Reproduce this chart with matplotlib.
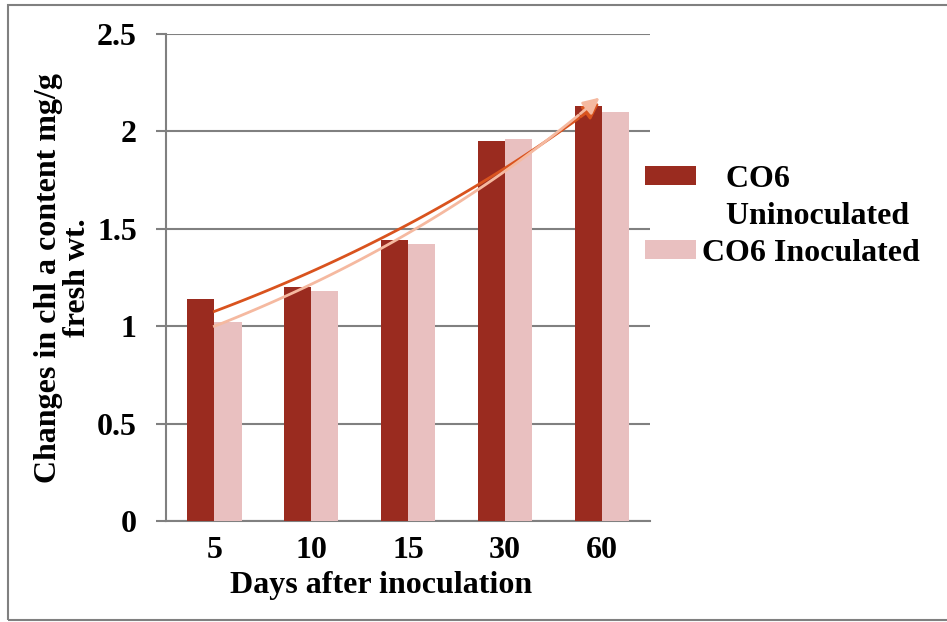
import matplotlib.pyplot as plt
import numpy as np
from matplotlib.patches import Patch, Rectangle

# Data
days = ['5', '10', '15', '30', '60']
uninoculated = [1.14, 1.20, 1.44, 1.95, 2.13]
inoculated = [1.02, 1.18, 1.42, 1.96, 2.10]

dark_red = '#9A2B1F'
pink = '#E9C0C0'
trend_dark = '#D9531E'
trend_light = '#F5B9A0'
grey = '#808080'

plt.rcParams['font.family'] = ['Liberation Serif', 'DejaVu Serif']
plt.rcParams['font.weight'] = 'bold'
fs = 23

fig = plt.figure(figsize=(9.47, 6.22), dpi=100)
ax = fig.add_axes([0.1753, 0.1624, 0.5111, 0.7829])

x = np.arange(len(days))
w = 0.28
ax.bar(x - w / 2, uninoculated, width=w, color=dark_red, zorder=3)
ax.bar(x + w / 2, inoculated, width=w, color=pink, zorder=3)


# exponential trendlines (like Excel's), with an arrow at the end
def trend(vals, color):
    xs = np.arange(1, len(vals) + 1)
    b, a = np.polyfit(xs, np.log(vals), 1)
    t = np.linspace(0, len(vals) - 1, 100)
    y = np.exp(a + b * (t + 1))
    ax.plot(t[:-6], y[:-6], color=color, lw=2, zorder=4)
    ax.annotate('', xy=(t[-1], y[-1]), xytext=(t[-7], y[-7]),
                arrowprops=dict(arrowstyle='-|>', color=color, lw=2, mutation_scale=24),
                zorder=4)


trend(uninoculated, trend_dark)
trend(inoculated, trend_light)

ax.set_xlim(-0.5, len(days) - 0.5)
ax.set_ylim(0, 2.5)
ax.set_yticks([0, 0.5, 1, 1.5, 2, 2.5])
ax.set_yticklabels(['0', '0.5', '1', '1.5', '2', '2.5'])
ax.set_xticks(x)
ax.set_xticklabels(days)
ax.grid(axis='y', color=grey, lw=1.5, zorder=0)
ax.tick_params(axis='y', length=7, width=1.5, color=grey, pad=14, labelsize=fs)
ax.tick_params(axis='x', length=0, pad=11, labelsize=fs)
for s in ['top', 'right']:
    ax.spines[s].set_visible(False)
for s in ['left', 'bottom']:
    ax.spines[s].set_color(grey)
    ax.spines[s].set_linewidth(1.5)

ax.set_ylabel('Changes in chl a content mg/g\nfresh wt.', fontsize=fs,
              fontweight='bold', va='center', linespacing=1.0)
ax.yaxis.set_label_coords(-0.212, 0.5)
ax.set_xlabel('Days after inoculation', fontsize=fs, fontweight='bold', va='center')
ax.xaxis.set_label_coords(0.444, -0.132)

handles = [Patch(facecolor=dark_red), Patch(facecolor='none', edgecolor='none'),
           Patch(facecolor=pink)]
labels = ['   CO6', '   Uninoculated', 'CO6 Inoculated']
fig.legend(handles, labels, loc='center left', bbox_to_anchor=(0.681, 0.652),
           frameon=False, fontsize=fs, handlelength=1.6, handleheight=0.55,
           handletextpad=0.2, labelspacing=0.25, borderpad=0, borderaxespad=0)

# outer frame
fig.patches.append(Rectangle((8 / 947, 1 - 620 / 622), 1.0, 615 / 622,
                             transform=fig.transFigure, fill=False,
                             edgecolor=grey, lw=1.5, zorder=0))

fig.savefig('out.png', dpi=100)
